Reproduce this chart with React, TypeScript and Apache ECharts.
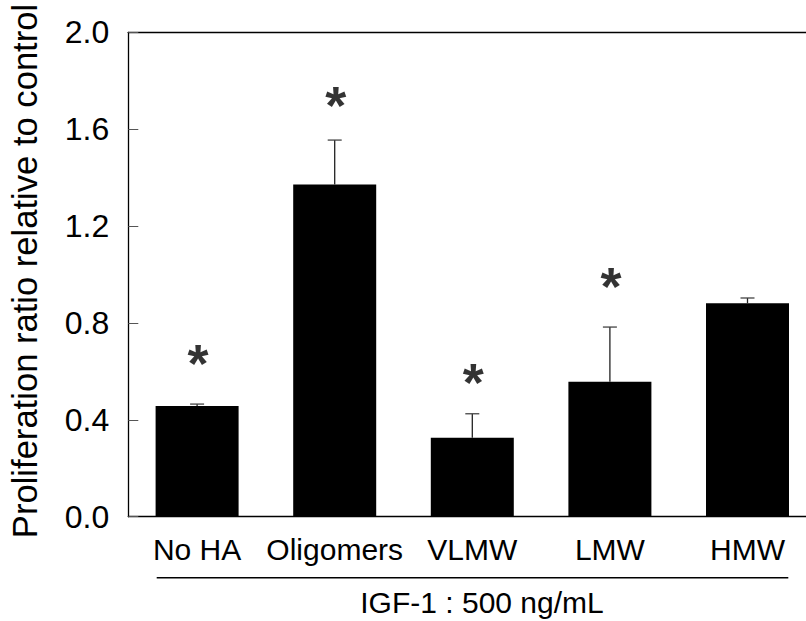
import React, { useEffect, useRef } from "react";
import * as echarts from "echarts";

const categories = ["No HA", "Oligomers", "VLMW", "LMW", "HMW"];
const means = [0.457, 1.372, 0.326, 0.557, 0.881];
const errors = [0.008, 0.183, 0.099, 0.226, 0.022];
// vertical position (in axis units) of the significance asterisks; null = none
const sigMarkY: (number | null)[] = [0.665, 1.73, 0.585, 0.98, null];
const yTicks = [0, 0.4, 0.8, 1.2, 1.6, 2.0];
const yTitle = "Proliferation ratio relative to control";
const groupTitle = "IGF-1 : 500 ng/mL";

const FONT = "'Liberation Sans', Arial, sans-serif";

export default function App() {
  const ref = useRef<HTMLDivElement>(null);
  useEffect(() => {
    if (!ref.current) return;
    const chart = echarts.init(ref.current, null, { renderer: "svg" });
    chart.setOption({
      animation: false,
      backgroundColor: "#ffffff",
      grid: {
        left: 128.3,
        top: 32.3,
        width: 688,
        height: 484.4,
        containLabel: false,
        outerBoundsMode: "none",
      },
      xAxis: [
        {
          type: "category",
          data: categories,
          axisLine: { show: true, lineStyle: { color: "#000", width: 1.3 } },
          axisTick: { show: false },
          axisLabel: {
            color: "#000",
            fontSize: 30,
            fontFamily: FONT,
            margin: 18,
            interval: 0,
          },
        },
        {
          type: "category",
          data: categories,
          position: "top",
          axisLine: { show: true, lineStyle: { color: "#000", width: 1.3 } },
          axisTick: { show: false },
          axisLabel: { show: false },
        },
      ],
      yAxis: {
        type: "value",
        min: yTicks[0],
        max: yTicks[yTicks.length - 1],
        interval: 0.4,
        name: yTitle,
        nameLocation: "middle",
        nameRotate: 90,
        nameGap: 86,
        nameTextStyle: {
          color: "#000",
          fontSize: 34.6,
          fontFamily: FONT,
          padding: [0, 0, 0, 7],
        },
        axisLine: { show: true, lineStyle: { color: "#000", width: 1.3 } },
        axisTick: { show: true, inside: true, length: 10, lineStyle: { color: "#555" } },
        splitLine: { show: false },
        axisLabel: {
          color: "#000",
          fontSize: 32,
          fontFamily: FONT,
          margin: 19,
          formatter: (v: number) => v.toFixed(1),
        },
      },
      series: [
        {
          type: "bar",
          data: means,
          barWidth: 83,
          itemStyle: { color: "#000" },
          z: 2,
        },
        {
          type: "custom",
          z: 3,
          data: means.map((m, i) => [i, m, m + errors[i]]),
          renderItem: (params: any, api: any) => {
            const x = api.value(0);
            const p0 = api.coord([x, api.value(1)]);
            const p1 = api.coord([x, api.value(2)]);
            const half = 7;
            return {
              type: "group",
              children: [
                {
                  type: "line",
                  shape: { x1: p0[0], y1: p0[1], x2: p1[0], y2: p1[1] },
                  style: { stroke: "#222", lineWidth: 1.3 },
                },
                {
                  type: "line",
                  shape: { x1: p1[0] - half, y1: p1[1], x2: p1[0] + half, y2: p1[1] },
                  style: { stroke: "#444", lineWidth: 1.3 },
                },
              ],
            };
          },
        },
        {
          type: "scatter",
          z: 4,
          symbolSize: 1,
          itemStyle: { color: "rgba(0,0,0,0)" },
          data: sigMarkY.map((v, i) => (v == null ? [i, null] : [i, v])),
          label: {
            show: true,
            position: "inside",
            formatter: "*",
            color: "#000",
            fontSize: 54,
            fontWeight: "bold",
            fontFamily: FONT,
            offset: [1, 7],
          },
        },
      ],
      graphic: [
        {
          type: "line",
          shape: { x1: 156.7, y1: 577.7, x2: 788.3, y2: 577.7 },
          style: { stroke: "#000", lineWidth: 1.5 },
        },
        {
          type: "text",
          x: 482,
          y: 602,
          style: {
            text: groupTitle,
            fill: "#000",
            fontSize: 30,
            fontFamily: FONT,
            align: "center",
            verticalAlign: "middle",
          },
        },
      ],
    });
    return () => chart.dispose();
  }, []);
  return (
    <div
      ref={ref}
      style={{ position: "absolute", left: 0, top: 0, width: 806, height: 621, overflow: "hidden" }}
    />
  );
}
